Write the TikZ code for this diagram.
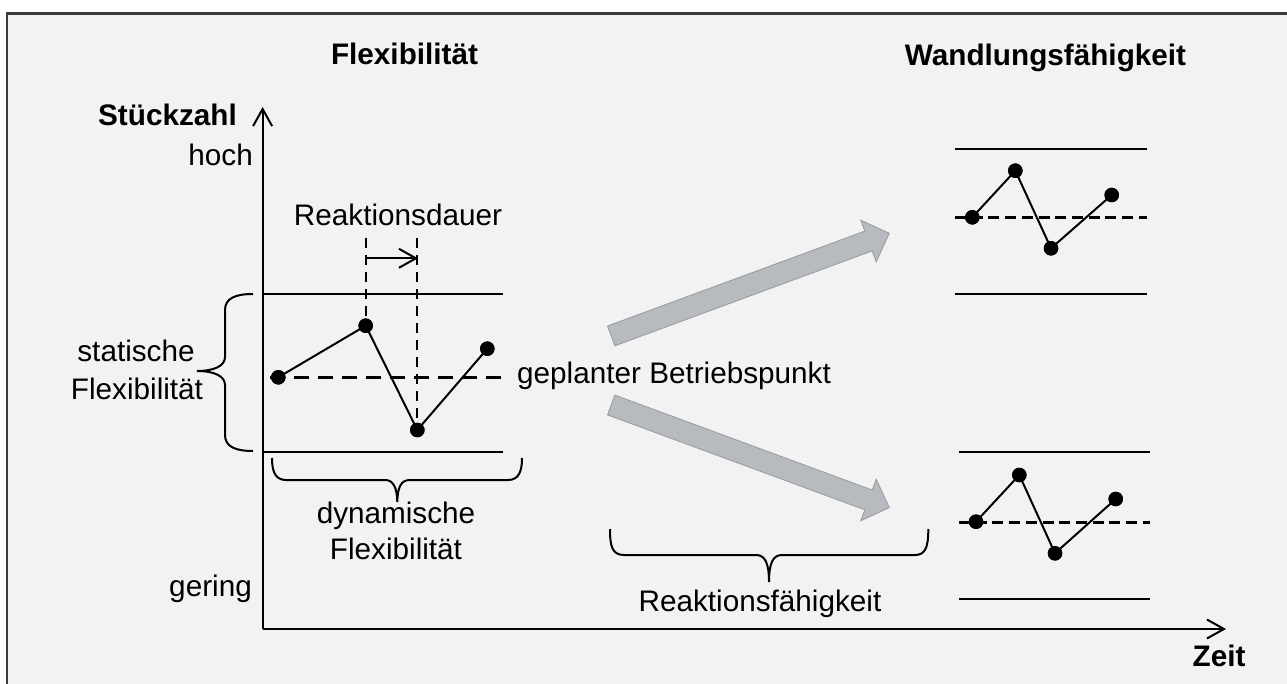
\documentclass[tikz,border=0pt]{standalone}
\usepackage{fontspec}
\setmainfont{Liberation Sans}
\usetikzlibrary{arrows.meta}
\definecolor{panel}{RGB}{242,242,242}
\definecolor{framec}{RGB}{60,60,60}
\definecolor{shiftfill}{RGB}{183,187,192}
\definecolor{shiftline}{RGB}{150,154,158}
\begin{document}
\begin{tikzpicture}[x=1pt,y=-1pt,
  lbl/.style={font=\fontsize{29.7}{36}\selectfont, inner sep=0pt, anchor=base},
  ttl/.style={lbl, font=\fontsize{29.7}{36}\selectfont\bfseries},
  dot/.style={circle, fill=black, inner sep=0pt, minimum size=14.5pt},
  band/.style={line width=2pt},
  axisline/.style={line width=2.2pt, -{Straight Barb[length=17pt,width=19pt,line width=2pt]}},
  trace/.style={line width=2pt},
  planned/.style={line width=3pt, dash pattern=on 15pt off 9pt},
  plannedthin/.style={line width=2.7pt, dash pattern=on 11pt off 5.7pt},
  guide/.style={line width=2pt, dash pattern=on 10pt off 7pt},
  brc/.style={line width=2pt},
  broadarrow/.style={fill=shiftfill, draw=shiftline, line width=0.8pt},
]
\useasboundingbox (0,0) rectangle (1287,684);

% panel with frame on the left and top edges
\fill[panel] (7,13) rectangle (1287,684);
\draw[framec, line width=2.5pt] (7,684) -- (7,13.5) -- (1287,13.5);

% titles
\node[ttl] (tflex) at (404.5,65) {Flexibilität};
\node[ttl] (twand) at (1045.5,66) {Wandlungsfähigkeit};

% axes
\coordinate (O) at (262.6,629);
\coordinate (ytip) at (262.6,107);
\coordinate (xtip) at (1226,629);
\draw[axisline] (O) -- (ytip);
\draw[axisline] (O) -- (xtip);
\node[ttl, anchor=base east] (yname) at (237,126) {Stückzahl};
\node[lbl, anchor=base east] (high) at (253,166) {hoch};
\node[lbl, anchor=base east] (low) at (252,596) {gering};
\node[ttl] (xname) at (1219,666) {Zeit};

% left chart: limits, planned operating point, trace
\coordinate (Lt1) at (263,294.3); \coordinate (Lt2) at (503,294.3);
\coordinate (Lb1) at (263,451.7); \coordinate (Lb2) at (503,451.7);
\coordinate (Lp1) at (270,377.3); \coordinate (Lp2) at (506,377.3);
\draw[band] (Lt1) -- (Lt2);
\draw[band] (Lb1) -- (Lb2);
\draw[planned] (Lp1) -- (Lp2);

\coordinate (g1) at (365.7,238); \coordinate (g2) at (417.3,238);
\node[dot] (a1) at (278.3,377.3) {};
\node[dot] (a2) at (365.7,325.7) {};
\node[dot] (a3) at (417.3,430) {};
\node[dot] (a4) at (487.3,348.7) {};
\draw[guide] (g1) -- (a2.center);
\draw[guide] (g2) -- (a3.center);
\draw[trace] (a1.center) -- (a2.center) -- (a3.center) -- (a4.center);
\node[dot] at (a1) {}; \node[dot] at (a2) {};
\node[dot] at (a3) {}; \node[dot] at (a4) {};

\coordinate (r1) at (365.7,258.3); \coordinate (r2) at (418,258.3);
\draw[line width=2pt, -{Straight Barb[length=17pt,width=19pt,line width=2pt]}] (r1) -- (r2);
\node[lbl] (rdauer) at (398,226) {Reaktionsdauer};

\node[lbl, anchor=base west] (plan) at (517,383) {geplanter Betriebspunkt};

% brace for static flexibility
\draw[brc] (253,294) .. controls (236,294) and (225,298) .. (225,310)
  -- (225,357) .. controls (225,366) and (214,371) .. (197,371)
  .. controls (214,371) and (225,376) .. (225,385)
  -- (225,435) .. controls (225,447) and (236,451) .. (253,451);
\node[lbl] (stat1) at (136,362) {statische};
\node[lbl] (stat2) at (137,399) {Flexibilität};

% brace for dynamic flexibility
\draw[brc] (272,458) .. controls (272,471) and (275,480) .. (286,480)
  -- (385,480) .. controls (393,480) and (397,487) .. (397.3,502)
  .. controls (397.6,487) and (401,480) .. (410,480)
  -- (508,480) .. controls (519,480) and (522,471) .. (522,458);
\node[lbl] (dyn1) at (396,523) {dynamische};
\node[lbl] (dyn2) at (396,559) {Flexibilität};

% brace for responsiveness
\draw[brc] (610,529) .. controls (610,546) and (612,555) .. (624,555)
  -- (756,555) .. controls (765,555) and (769,563) .. (769,582)
  .. controls (769,563) and (773,555) .. (782,555)
  -- (915,555) .. controls (926,555) and (928.3,546) .. (928.3,529);
\node[lbl] (rfaeh) at (760,611) {Reaktionsfähigkeit};

% broad arrows towards the two reconfigured states
\filldraw[broadarrow] (607.5,326.0) -- (864.8,231.1) -- (860.8,220.2) -- (889.3,233.3)
  -- (876.2,261.8) -- (872.2,250.9) -- (614.9,345.8) -- cycle;
\filldraw[broadarrow] (607.5,414.9) -- (864.8,509.8) -- (860.8,520.7) -- (889.3,507.6)
  -- (876.2,479.1) -- (872.2,490.0) -- (614.9,395.1) -- cycle;

% upper right chart
\coordinate (Ut1) at (955,149); \coordinate (Ut2) at (1147,149);
\coordinate (Ub1) at (955,294.3); \coordinate (Ub2) at (1147,294.3);
\coordinate (Up1) at (955,217.7); \coordinate (Up2) at (1147,217.7);
\draw[band] (Ut1) -- (Ut2);
\draw[band] (Ub1) -- (Ub2);
\draw[plannedthin] (Up1) -- (Up2);
\node[dot] (b1) at (972.3,217.3) {};
\node[dot] (b2) at (1015.3,170.7) {};
\node[dot] (b3) at (1051,248.3) {};
\node[dot] (b4) at (1111.7,195) {};
\draw[trace] (b1.center) -- (b2.center) -- (b3.center) -- (b4.center);
\node[dot] at (b1) {}; \node[dot] at (b2) {};
\node[dot] at (b3) {}; \node[dot] at (b4) {};

% lower right chart
\coordinate (Dt1) at (959,452.3); \coordinate (Dt2) at (1150,452.3);
\coordinate (Db1) at (959,599); \coordinate (Db2) at (1150,599);
\coordinate (Dp1) at (959,522.3); \coordinate (Dp2) at (1150,522.3);
\draw[band] (Dt1) -- (Dt2);
\draw[band] (Db1) -- (Db2);
\draw[plannedthin] (Dp1) -- (Dp2);
\node[dot] (c1) at (976,521.7) {};
\node[dot] (c2) at (1019.3,475) {};
\node[dot] (c3) at (1055,553.3) {};
\node[dot] (c4) at (1115.7,499) {};
\draw[trace] (c1.center) -- (c2.center) -- (c3.center) -- (c4.center);
\node[dot] at (c1) {}; \node[dot] at (c2) {};
\node[dot] at (c3) {}; \node[dot] at (c4) {};
\end{tikzpicture}
\end{document}
